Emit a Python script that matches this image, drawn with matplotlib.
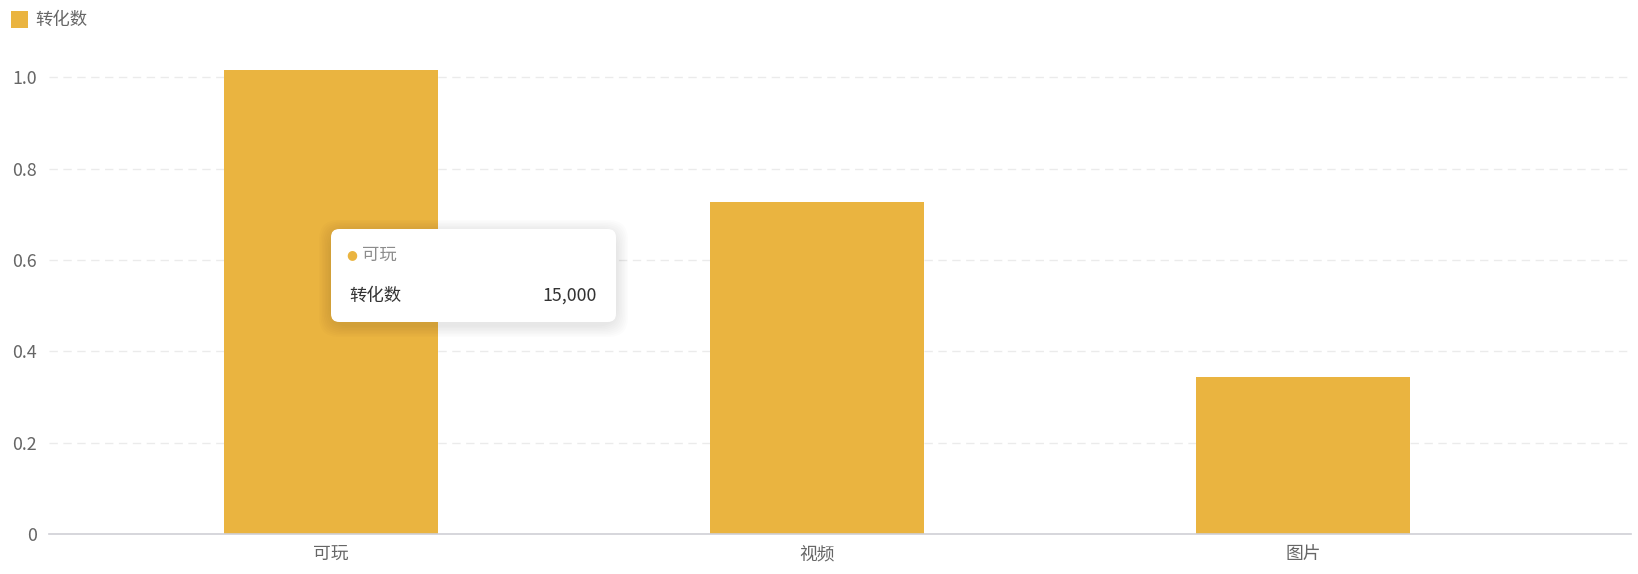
import matplotlib
matplotlib.use("Agg")
import matplotlib.pyplot as plt
from matplotlib.patches import FancyBboxPatch, Rectangle

plt.rcParams['font.family'] = ['Noto Sans CJK SC', 'DejaVu Sans']

categories = ["可玩", "视频", "图片"]
values = [1.016, 0.726, 0.344]
yticks = [0, 0.2, 0.4, 0.6, 0.8, 1.0]
ytick_labels = ["0", "0.2", "0.4", "0.6", "0.8", "1.0"]
series_name = "转化数"
tooltip_category = "可玩"
tooltip_value = "15,000"

W, H = 1638, 574
fig = plt.figure(figsize=(W / 100, H / 100), dpi=100)
fig.patch.set_facecolor("white")

left_px, right_px, bottom_px = 49, 1631, 534
unit_px = 456.7
ymax = 1.1
top_px = bottom_px - ymax * unit_px
ax = fig.add_axes([left_px / W, (H - bottom_px) / H, (right_px - left_px) / W, (bottom_px - top_px) / H])

bar_color = "#EAB440"
x = list(range(len(categories)))
ax.bar(x, values, width=0.44, color=bar_color, zorder=3, linewidth=0)
ax.set_xlim(-0.58, 2.675)
ax.set_ylim(0, ymax)

ax.set_yticks(yticks)
ax.set_yticklabels(ytick_labels)
ax.set_xticks(x)
ax.set_xticklabels(categories)
ax.tick_params(axis="both", length=0, labelsize=12.8, colors="#666666")
ax.tick_params(axis="y", pad=9)
ax.tick_params(axis="x", pad=8)

for s in ["top", "right", "left"]:
    ax.spines[s].set_visible(False)
ax.spines["bottom"].set_color("#CFCFD6")
ax.spines["bottom"].set_linewidth(1.2)
ax.spines["bottom"].set_zorder(4)

for t in yticks[1:]:
    ax.axhline(t, color="#EBEBEB", linewidth=1, linestyle=(0, (6, 4)), zorder=1)

# legend
fig.patches.append(Rectangle((11 / W, (H - 28) / H), 17 / W, 17 / H, transform=fig.transFigure,
                             facecolor=bar_color, edgecolor="none"))
fig.text(35 / W, (H - 19.5) / H, series_name, fontsize=12.5, color="#666666", va="center", ha="left")

# tooltip with soft shadow
bx0, bx1, by0, by1 = 331, 616, 229, 322
for i in range(8):
    grow = 12 - 1.5 * i
    fig.patches.append(FancyBboxPatch(((bx0 - grow) / W, (H - by1 - grow - 3) / H),
                                      (bx1 - bx0 + 2 * grow) / W, (by1 - by0 + 2 * grow) / H,
                                      boxstyle="round,pad=0,rounding_size=0.012",
                                      transform=fig.transFigure, facecolor="black",
                                      edgecolor="none", alpha=0.012, zorder=10, mutation_aspect=W / H))
fig.patches.append(FancyBboxPatch((bx0 / W, (H - by1) / H), (bx1 - bx0) / W, (by1 - by0) / H,
                                  boxstyle="round,pad=0,rounding_size=0.005",
                                  transform=fig.transFigure, facecolor="white",
                                  edgecolor="none", zorder=11, mutation_aspect=W / H))
fig.text(352 / W, (H - 255) / H, "●", fontsize=9, color=bar_color, ha="center", va="center",
         zorder=12, family=['DejaVu Sans'])
fig.text(362 / W, (H - 255) / H, tooltip_category, fontsize=12.5, color="#8C8C8C", ha="left", va="center", zorder=12)
fig.text(349 / W, (H - 296) / H, series_name, fontsize=12.5, color="#333333", ha="left", va="center", zorder=12)
fig.text(597 / W, (H - 296) / H, tooltip_value, fontsize=12.8, color="#333333", ha="right", va="center", zorder=12)

fig.savefig("out.png", dpi=100, facecolor="white")
